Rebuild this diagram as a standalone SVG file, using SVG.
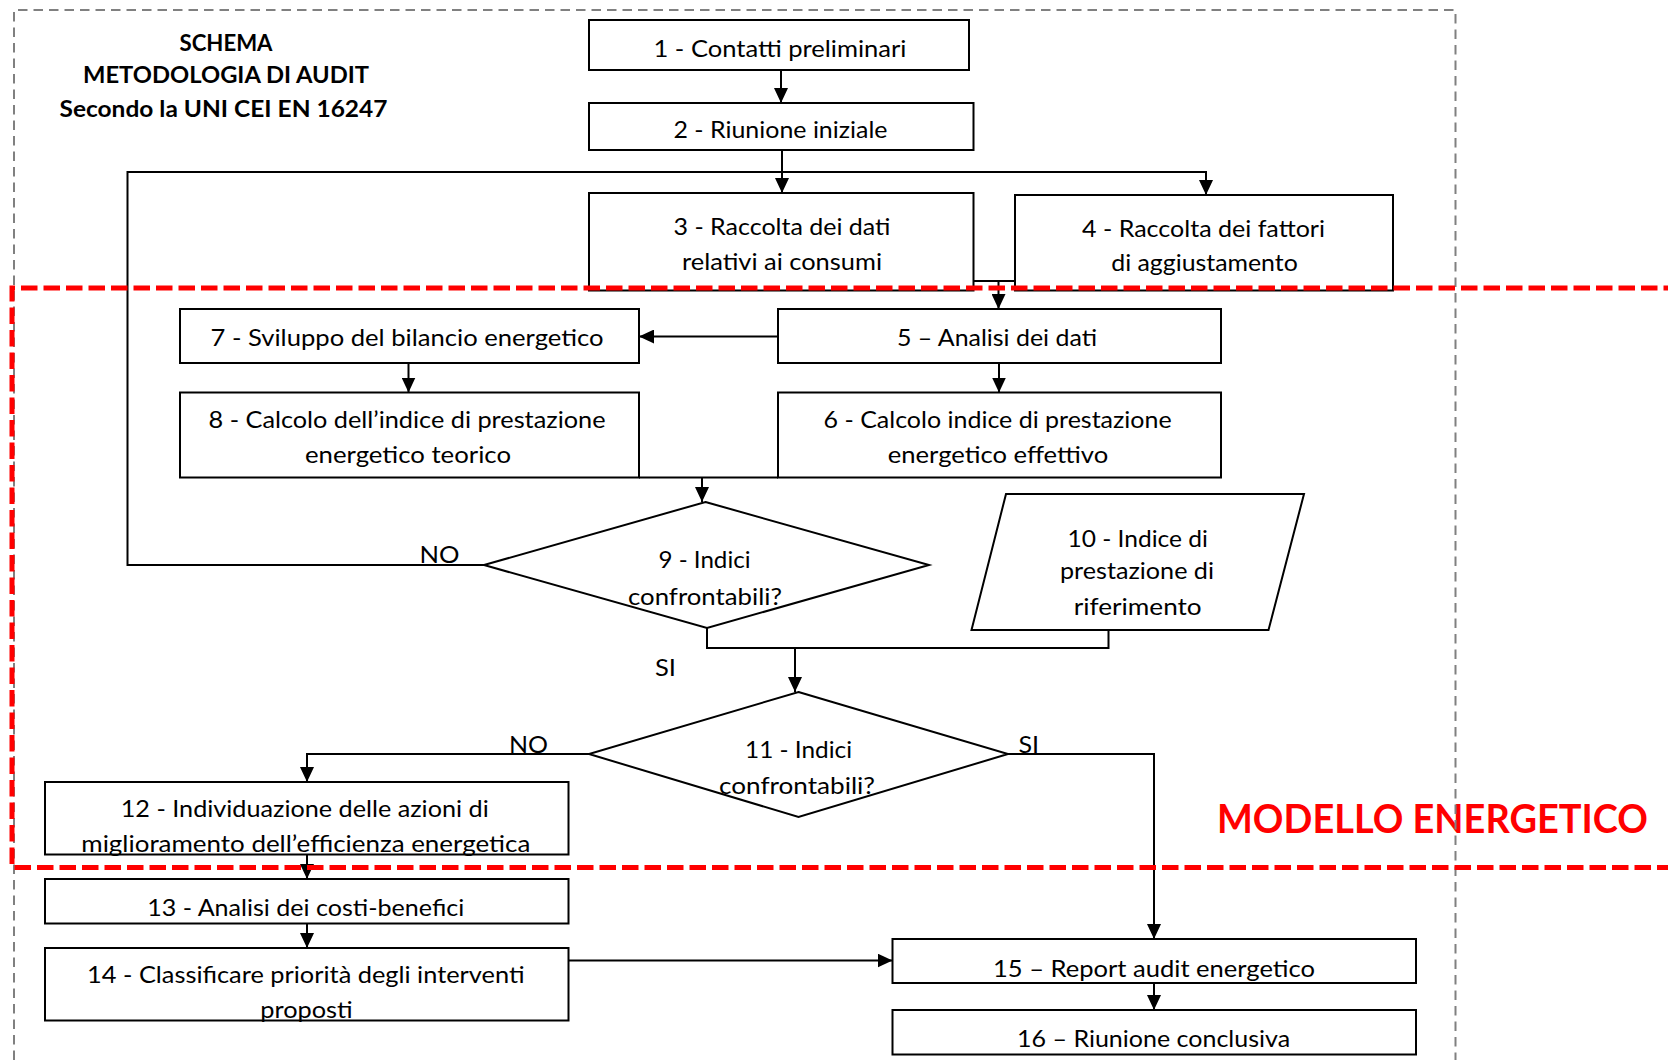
<svg xmlns="http://www.w3.org/2000/svg" width="1668" height="1060" viewBox="0 0 1668 1060">
<style>
.box{fill:#fff;stroke:#000;stroke-width:2}
.t{font-family:Lato,"Liberation Sans",sans-serif;font-size:24px;fill:#000;text-anchor:middle}
.lbl{font-family:Lato,"Liberation Sans",sans-serif;font-size:24px;fill:#000}
.title{font-family:Lato,"Liberation Sans",sans-serif;font-size:23px;font-weight:bold;fill:#000;text-anchor:middle}
.c{fill:none;stroke:#000;stroke-width:2}
.a{marker-end:url(#arr)}
</style>
<defs>
<marker id="arr" markerUnits="userSpaceOnUse" viewBox="0 0 15 14" markerWidth="15" markerHeight="14" refX="15" refY="7" orient="auto">
<path d="M0,0 L15,7 L0,14 z" fill="#000"/>
</marker>
</defs>
<rect width="1668" height="1060" fill="#fff"/>

<g id="title">
<text class="title" x="226" y="50.7" textLength="93" lengthAdjust="spacingAndGlyphs">SCHEMA</text>
<text class="title" x="226" y="83.3" textLength="286" lengthAdjust="spacingAndGlyphs">METODOLOGIA DI AUDIT</text>
<text class="title" x="223.5" y="116.7" textLength="328" lengthAdjust="spacingAndGlyphs">Secondo la UNI CEI EN 16247</text>
</g>

<g id="connectors">
<path class="c a" d="M781 70 V103"/>
<path class="c a" d="M782 150 V193"/>
<path class="c a" d="M484 565 H127.5 V172 H1206 V195"/>
<path class="c" d="M973.5 281 H1015"/>
<path class="c a" d="M998.5 281 V309"/>
<path class="c a" d="M778 336.5 H639"/>
<path class="c a" d="M999 363 V392.5"/>
<path class="c a" d="M408.5 363 V392.5"/>
<path class="c" d="M639 477.5 H778"/>
<path class="c a" d="M702 477.5 V502"/>
<path class="c" d="M707 628 V648 H1108.5 V630"/>
<path class="c a" d="M795 648 V692"/>
<path class="c a" d="M589 754 H307 V782"/>
<path class="c a" d="M1008 754 H1154 V939"/>
<path class="c a" d="M307 854.5 V879"/>
<path class="c a" d="M307 923.5 V948"/>
<path class="c a" d="M568.5 960.5 H892.5"/>
<path class="c a" d="M1154 983 V1010"/>
</g>

<g id="n1"><rect class="box" x="589" y="20" width="380" height="50"/>
<text class="t" x="780" y="56.7" textLength="253" lengthAdjust="spacingAndGlyphs">1 - Contatti preliminari</text></g>
<g id="n2"><rect class="box" x="589" y="103" width="384.5" height="47"/>
<text class="t" x="780.5" y="138.3" textLength="214" lengthAdjust="spacingAndGlyphs">2 - Riunione iniziale</text></g>
<g id="n3"><rect class="box" x="589" y="193" width="384.5" height="97.5"/>
<text class="t" x="782" y="235" textLength="217" lengthAdjust="spacingAndGlyphs">3 - Raccolta dei dati</text>
<text class="t" x="782" y="270" textLength="200" lengthAdjust="spacingAndGlyphs">relativi ai consumi</text></g>
<g id="n4"><rect class="box" x="1015" y="195" width="378" height="95.5"/>
<text class="t" x="1203.5" y="236.7" textLength="243" lengthAdjust="spacingAndGlyphs">4 - Raccolta dei fattori</text>
<text class="t" x="1204.5" y="270.7" textLength="186.5" lengthAdjust="spacingAndGlyphs">di aggiustamento</text></g>
<g id="n5"><rect class="box" x="778" y="309" width="443" height="54"/>
<text class="t" x="997" y="345.7" textLength="200" lengthAdjust="spacingAndGlyphs">5 – Analisi dei dati</text></g>
<g id="n6"><rect class="box" x="778" y="392.5" width="443" height="85"/>
<text class="t" x="997.6" y="427.7" textLength="348" lengthAdjust="spacingAndGlyphs">6 - Calcolo indice di prestazione</text>
<text class="t" x="998" y="463.3" textLength="220.5" lengthAdjust="spacingAndGlyphs">energetico effettivo</text></g>
<g id="n7"><rect class="box" x="180" y="309" width="459" height="54"/>
<text class="t" x="407" y="345.7" textLength="393" lengthAdjust="spacingAndGlyphs">7 - Sviluppo del bilancio energetico</text></g>
<g id="n8"><rect class="box" x="180" y="392.5" width="459" height="85"/>
<text class="t" x="407" y="427.7" textLength="397" lengthAdjust="spacingAndGlyphs">8 - Calcolo dell’indice di prestazione</text>
<text class="t" x="408" y="463.3" textLength="206" lengthAdjust="spacingAndGlyphs">energetico teorico</text></g>
<g id="n9"><polygon class="box" points="705.5,502 929,565 707,628 484,565"/>
<text class="t" x="704.5" y="568.3" textLength="92" lengthAdjust="spacingAndGlyphs">9 - Indici</text>
<text class="t" x="705" y="605" textLength="154" lengthAdjust="spacingAndGlyphs">confrontabili?</text></g>
<g id="n10"><polygon class="box" points="1006,494 1304,494 1268.5,630 971.5,630"/>
<text class="t" x="1137.7" y="546.7" textLength="140.5" lengthAdjust="spacingAndGlyphs">10 - Indice di</text>
<text class="t" x="1137" y="579" textLength="154" lengthAdjust="spacingAndGlyphs">prestazione di</text>
<text class="t" x="1137.7" y="615" textLength="128" lengthAdjust="spacingAndGlyphs">riferimento</text></g>
<g id="n11"><polygon class="box" points="798.5,692 1008,754 798.5,817 589,754"/>
<text class="t" x="798.5" y="758.3" textLength="107" lengthAdjust="spacingAndGlyphs">11 - Indici</text>
<text class="t" x="797" y="794" textLength="156" lengthAdjust="spacingAndGlyphs">confrontabili?</text></g>
<g id="n12"><rect class="box" x="45" y="782" width="523.5" height="72.5"/>
<text class="t" x="304.7" y="816.7" textLength="368" lengthAdjust="spacingAndGlyphs">12 - Individuazione delle azioni di</text>
<text class="t" x="305.8" y="851.7" textLength="449" lengthAdjust="spacingAndGlyphs">miglioramento dell’efficienza energetica</text></g>
<g id="n13"><rect class="box" x="45" y="879" width="523.5" height="44.5"/>
<text class="t" x="305.8" y="916" textLength="317" lengthAdjust="spacingAndGlyphs">13 - Analisi dei costi-benefici</text></g>
<g id="n14"><rect class="box" x="45" y="948" width="523.5" height="72.5"/>
<text class="t" x="305.8" y="983.3" textLength="437.5" lengthAdjust="spacingAndGlyphs">14 - Classificare priorità degli interventi</text>
<text class="t" x="306.5" y="1018.3" textLength="92.4" lengthAdjust="spacingAndGlyphs">proposti</text></g>
<g id="n15"><rect class="box" x="892.5" y="939" width="523.5" height="44"/>
<text class="t" x="1154" y="976.7" textLength="322" lengthAdjust="spacingAndGlyphs">15 – Report audit energetico</text></g>
<g id="n16"><rect class="box" x="892.5" y="1010" width="523.5" height="44.5"/>
<text class="t" x="1153.6" y="1047.3" textLength="273" lengthAdjust="spacingAndGlyphs">16 – Riunione conclusiva</text></g>

<g id="labels">
<text class="lbl" x="419.6" y="562.7" textLength="40" lengthAdjust="spacingAndGlyphs">NO</text>
<text class="lbl" x="655" y="676" textLength="21" lengthAdjust="spacingAndGlyphs">SI</text>
<text class="lbl" x="509" y="753.3" textLength="39" lengthAdjust="spacingAndGlyphs">NO</text>
<text class="lbl" x="1018.4" y="753.3" textLength="20.6" lengthAdjust="spacingAndGlyphs">SI</text>
<text x="1217" y="832.7" font-family="Lato,'Liberation Sans',sans-serif" font-size="40" font-weight="bold" fill="#ff0000" textLength="431" lengthAdjust="spacingAndGlyphs">MODELLO ENERGETICO</text>
</g>

<g id="frames">
<path d="M14 1060 V10 H1455.5 V1060" fill="none" stroke="#808080" stroke-width="2" stroke-dasharray="9.5 6"/>
<path d="M1680 288 H12 V867.5 H1680" fill="none" stroke="#ff0000" stroke-width="5" stroke-dasharray="16.5 6"/>
</g>
</svg>
